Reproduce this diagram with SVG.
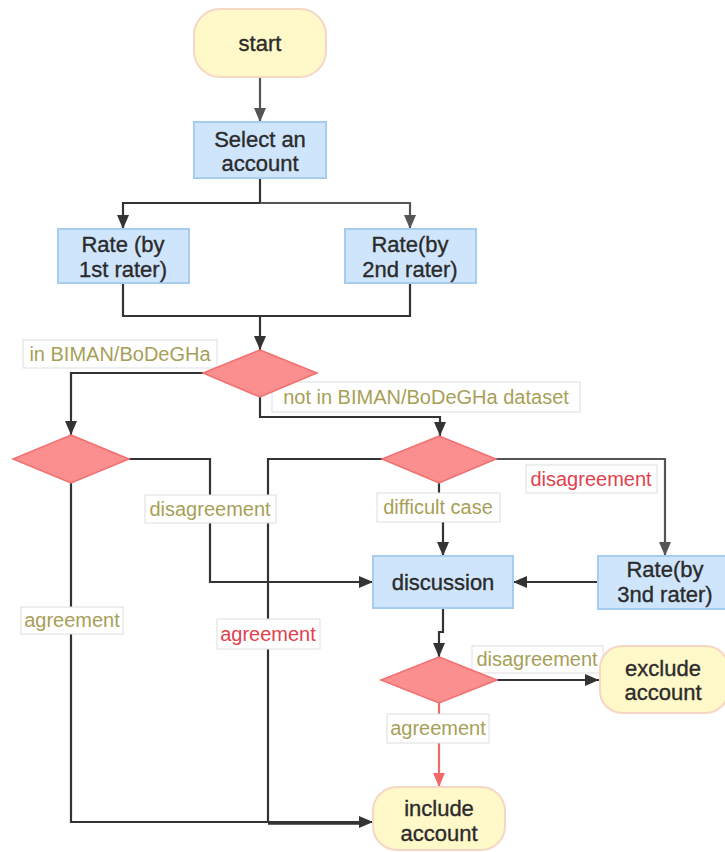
<svg xmlns="http://www.w3.org/2000/svg" width="725" height="852" viewBox="0 0 725 852">
  <style>
    .term { fill: #fff8c8; stroke: #f6d6c4; stroke-width: 2; }
    .proc { fill: #cfe5fb; stroke: #a6ccf0; stroke-width: 2; }
    .dec { fill: #fb8e8e; stroke: #f07070; stroke-width: 1.5; }
    .nt { font-family: "Liberation Sans", Arial, sans-serif; font-size: 22px; fill: #2b2b2b; stroke: #2b2b2b; stroke-width: 0.35; text-anchor: middle; }
    .edge { fill: none; stroke: #333; stroke-width: 2.2; }
    .edge.gray { stroke: #555; }
    .edge.red { stroke: #f06a6a; }
    .lbox { fill: #fff; stroke: #dedede; stroke-width: 1; }
    .lt { font-family: "Liberation Sans", Arial, sans-serif; font-size: 20px; text-anchor: middle; }
    .olive { fill: #a79f58; }
    .redt { fill: #e2414e; }
  </style>
  <defs>
    <marker id="arr" markerUnits="userSpaceOnUse" markerWidth="14" markerHeight="12" refX="14" refY="6" orient="auto">
      <path d="M0,0 L14,6 L0,12 z" fill="#333"/>
    </marker>
    <marker id="arrGray" markerUnits="userSpaceOnUse" markerWidth="14" markerHeight="12" refX="14" refY="6" orient="auto">
      <path d="M0,0 L14,6 L0,12 z" fill="#555"/>
    </marker>
    <marker id="arrRed" markerUnits="userSpaceOnUse" markerWidth="14" markerHeight="12" refX="14" refY="6" orient="auto">
      <path d="M0,0 L14,6 L0,12 z" fill="#f06a6a"/>
    </marker>
  </defs>

  <!-- connectors -->
  <g id="connectors">
    <path class="edge gray" d="M260,77 V122" marker-end="url(#arrGray)"/>
    <path class="edge" d="M260,178 V203 H123 V229" marker-end="url(#arr)"/>
    <path class="edge gray" d="M260,203 H410 V229" marker-end="url(#arrGray)"/>
    <path class="edge" d="M123,283 V316 H260 V350" marker-end="url(#arr)"/>
    <path class="edge" d="M410,283 V316 H260"/>
    <path class="edge" d="M203,373 H71 V435" marker-end="url(#arr)"/>
    <path class="edge" d="M260,397 V417 H440 V436" marker-end="url(#arr)"/>
    <path class="edge" d="M129,459 H210 V582 H373" marker-end="url(#arr)"/>
    <path class="edge" d="M71,483 V822 H373" marker-end="url(#arr)"/>
    <path class="edge" d="M382,459 H268 V822"/>
    <!-- shared run into "include account" -->
    <path class="edge" d="M268,823 H362" style="stroke-width:3.5"/>
    <path class="edge gray" d="M496,459 H665 V556" marker-end="url(#arrGray)"/>
    <path class="edge" d="M439,483 V507 H443 V556" marker-end="url(#arr)"/>
    <path class="edge" d="M598,582 H513" marker-end="url(#arr)"/>
    <path class="edge" d="M443,608 V632 H439 V657" marker-end="url(#arr)"/>
    <path class="edge" d="M497,680 H599" marker-end="url(#arr)"/>
    <path class="edge red" d="M439,703 V787" marker-end="url(#arrRed)"/>
  </g>

  <!-- edge labels -->
  <g id="labels">
    <rect class="lbox" x="23" y="340" width="194" height="28"/>
    <text class="lt olive" x="120" y="361">in BIMAN/BoDeGHa</text>
    <rect class="lbox" x="272" y="382" width="308" height="30"/>
    <text class="lt olive" x="426" y="404">not in BIMAN/BoDeGHa dataset</text>
    <rect class="lbox" x="145" y="495" width="131" height="28"/>
    <text class="lt olive" x="210" y="516">disagreement</text>
    <rect class="lbox" x="21" y="607" width="102" height="27"/>
    <text class="lt olive" x="72" y="627">agreement</text>
    <rect class="lbox" x="217" y="619" width="103" height="30"/>
    <text class="lt redt" x="268" y="641">agreement</text>
    <rect class="lbox" x="377" y="493" width="123" height="29"/>
    <text class="lt olive" x="438" y="514">difficult case</text>
    <rect class="lbox" x="526" y="465" width="131" height="28"/>
    <text class="lt redt" x="591" y="486">disagreement</text>
    <rect class="lbox" x="472" y="646" width="131" height="27"/>
    <text class="lt olive" x="537" y="666">disagreement</text>
    <rect class="lbox" x="387" y="714" width="102" height="29"/>
    <text class="lt olive" x="438" y="735">agreement</text>
  </g>

  <!-- nodes -->
  <g id="start">
    <rect class="term" x="194" y="9" width="132" height="68" rx="26"/>
    <text class="nt" x="260" y="51">start</text>
  </g>
  <g id="select">
    <rect class="proc" x="194" y="122" width="132" height="56"/>
    <text class="nt" x="260" y="147">Select an</text>
    <text class="nt" x="260" y="171">account</text>
  </g>
  <g id="rate1">
    <rect class="proc" x="58" y="229" width="131" height="54"/>
    <text class="nt" x="123" y="252">Rate (by</text>
    <text class="nt" x="123" y="277">1st rater)</text>
  </g>
  <g id="rate2">
    <rect class="proc" x="345" y="229" width="131" height="54"/>
    <text class="nt" x="410" y="252">Rate(by</text>
    <text class="nt" x="410" y="277">2nd rater)</text>
  </g>
  <g id="dataset-check">
    <polygon class="dec" points="260,350 317,373 260,397 203,373"/>
  </g>
  <g id="pair-check-known">
    <polygon class="dec" points="71,435 129,459 71,483 13,459"/>
  </g>
  <g id="pair-check-new">
    <polygon class="dec" points="439,436 496,459 439,483 382,459"/>
  </g>
  <g id="discussion">
    <rect class="proc" x="373" y="556" width="140" height="52"/>
    <text class="nt" x="443" y="590">discussion</text>
  </g>
  <g id="rate3">
    <rect class="proc" x="598" y="556" width="133" height="53"/>
    <text class="nt" x="665" y="577">Rate(by</text>
    <text class="nt" x="665" y="602">3nd rater)</text>
  </g>
  <g id="final-check">
    <polygon class="dec" points="439,657 497,680 439,703 381,680"/>
  </g>
  <g id="exclude">
    <rect class="term" x="600" y="646" width="128" height="67" rx="22"/>
    <text class="nt" x="663" y="676">exclude</text>
    <text class="nt" x="663" y="700">account</text>
  </g>
  <g id="include">
    <rect class="term" x="373" y="787" width="132" height="63" rx="24"/>
    <text class="nt" x="439" y="816">include</text>
    <text class="nt" x="439" y="841">account</text>
  </g>
</svg>
